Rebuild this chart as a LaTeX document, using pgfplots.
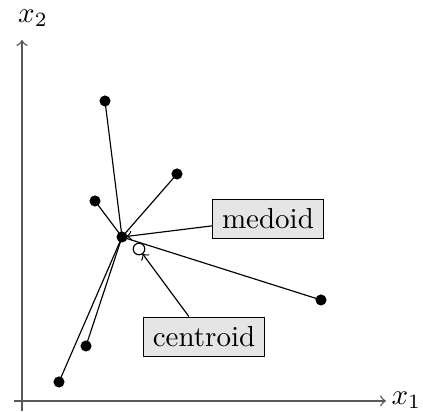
\documentclass[border=0pt]{standalone}
\usepackage{pgfplots}
\pgfplotsset{compat=1.18}
\begin{document}
\begin{tikzpicture}
\begin{axis}[
  hide axis, clip=false,
  x=3.448pt, y=3.448pt,
  xmin=-2.2, xmax=40.1, ymin=-1, ymax=40.1,
]
\path (axis cs:-2.2,-1) rectangle (axis cs:40.1,40.1);
\draw[gray!70!black, line width=0.5pt, ->] (axis cs:-0.8,0) -- (axis cs:36.4,0);
\draw[gray!70!black, line width=0.5pt, ->] (axis cs:0,-1) -- (axis cs:0,36.1);
\node[anchor=west, inner sep=0pt] at (axis cs:36.9,0.1) {$x_1$};
\node[inner sep=0pt] at (axis cs:1.1,38.3) {$x_2$};
\addplot[black, no marks] coordinates {(10,16.4) (8.3,30.0)};
\addplot[black, no marks] coordinates {(10,16.4) (15.5,22.7)};
\addplot[black, no marks] coordinates {(10,16.4) (7.3,20.0)};
\addplot[black, no marks] coordinates {(10,16.4) (29.9,10.1)};
\addplot[black, no marks] coordinates {(10,16.4) (6.4,5.5)};
\addplot[black, no marks] coordinates {(10,16.4) (3.7,1.9)};
\addplot[only marks, mark=*, mark size=1.7pt, black] coordinates {
  (8.3,30.0) (15.5,22.7) (7.3,20.0) (10,16.4) (29.9,10.1) (6.4,5.5) (3.7,1.9)};
\addplot[only marks, mark=*, mark size=2pt, draw=black, fill=white] coordinates {(11.7,15.2)};
\node[draw=black, fill=gray!20] (m) at (axis cs:24.6,18.2) {medoid};
\node[draw=black, fill=gray!20] (c) at (axis cs:18.2,6.4) {centroid};
\draw[->, shorten >=1.6pt] (m) -- (axis cs:10,16.4);
\draw[->, shorten >=2pt] (c) -- (axis cs:11.7,15.2);
\end{axis}
\end{tikzpicture}
\end{document}
